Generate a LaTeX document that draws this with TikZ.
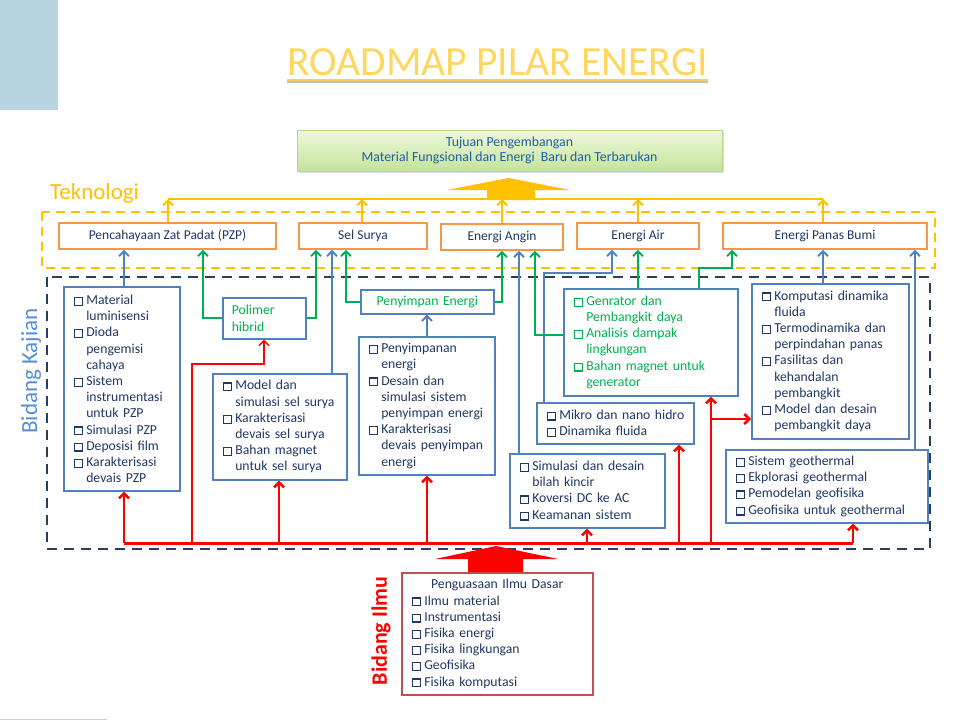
\documentclass[tikz,border=0pt]{standalone}
\usepackage{fontspec}
\setmainfont{Carlito}
\usetikzlibrary{arrows.meta,shadows}
\definecolor{navy}{HTML}{1F3864}
\definecolor{boxblue}{HTML}{4F81BD}
\definecolor{orangeC}{HTML}{F79646}
\definecolor{goldC}{HTML}{FFC000}
\definecolor{greenC}{HTML}{00B050}
\definecolor{redC}{HTML}{FF0000}
\definecolor{dashblue}{HTML}{243F60}
\definecolor{kajianC}{HTML}{558ED5}
\definecolor{ilmuborder}{HTML}{C0504D}
\definecolor{titleC}{HTML}{FFD75E}
\definecolor{goaltop}{HTML}{F0F8DC}
\definecolor{goalbot}{HTML}{C4E39C}
\definecolor{goalborder}{HTML}{B5D98A}
\definecolor{goaltext}{HTML}{1F5F9F}
\definecolor{decoC}{HTML}{B8D4E0}
\newcommand\fsz[2]{\fontsize{#1}{#2}\selectfont}
\newcommand\cbx{\makebox[12.5pt][l]{\raisebox{-0.2pt}{\setlength\fboxsep{0pt}\setlength\fboxrule{1.2pt}\fbox{\rule{0pt}{6.6pt}\rule{6.6pt}{0pt}}}}}
\newcommand\ind{\hspace*{12.5pt}}
\begin{document}
\begin{tikzpicture}[x=1pt,y=-1pt,
  tech/.style={draw=orangeC, line width=1.6pt, fill=white, minimum height=26pt, inner sep=0pt, font=\fsz{13.5}{16}, text=navy},
  lbox/.style={draw=boxblue, line width=1.6pt, fill=white, align=left, inner xsep=10pt, inner ysep=0pt, font=\fsz{13.7}{16.2}, text=navy, anchor=north west},
  tip/.style={-{Straight Barb[length=5pt,width=10pt]}},
  bc/.style={draw=boxblue, line width=2pt, tip},
  gc/.style={draw=greenC, line width=2pt, tip},
  rc/.style={draw=redC, line width=2.5pt, tip},
  rcthin/.style={draw=redC, line width=1.5pt, tip},
  yc/.style={draw=goldC, line width=2pt, tip},
  yline/.style={draw=goldC, line width=2pt},
  rline/.style={draw=redC, line width=3pt}
]
\useasboundingbox (0,0) rectangle (960,720);
% decorations
\fill[decoC] (0,0) rectangle (58,110);
\draw[decoC, line width=1pt] (0,719) -- (107,719);
% title
\node[inner sep=0pt, text=titleC, font=\fsz{41.5}{42}] (title) at (497.5,62) {ROADMAP PILAR ENERGI};
\draw[black!25, line width=1.5pt] ([yshift=-6pt]title.south west) -- ([yshift=-6pt]title.south east);
\draw[titleC!90!orange, line width=2pt] ([yshift=-4pt]title.south west) -- ([yshift=-4pt]title.south east);
% dashed frames
\draw[goldC, line width=2pt, dash pattern=on 9pt off 6pt] (42,212) rectangle (935,268);
\draw[dashblue, line width=2.5pt, dash pattern=on 10pt off 7pt] (47,277) rectangle (930,549);
% labels
\node[anchor=west, text=goldC, font=\fsz{23}{23}, inner sep=0pt] (tek) at (50,193) {Teknologi};
\node[rotate=90, text=kajianC, font=\fsz{23}{23}, inner sep=0pt] (bk) at (31,371) {Bidang Kajian};
\node[rotate=90, text=redC, font=\fsz{22}{22}\bfseries, inner sep=0pt] (bi) at (381,631) {Bidang Ilmu};
% goal
\node[draw=goalborder, line width=0.8pt, top color=goaltop, bottom color=goalbot, minimum width=425pt, minimum height=41pt, align=center, font=\fsz{13.8}{15.5}, text=goaltext, drop shadow={opacity=0.25, shadow xshift=2pt, shadow yshift=-2pt}] (goal) at (509.5,150.5) {Tujuan Pengembangan\\Material Fungsional dan Energi~ Baru dan Terbarukan};
% technology boxes
\node[tech, minimum width=217pt] (pzp) at (167.5,236) {Pencahayaan Zat Padat (PZP)};
\node[tech, minimum width=128pt] (ss) at (363,236) {Sel Surya};
\node[tech, minimum width=122pt] (ea) at (502,237) {Energi Angin};
\node[tech, minimum width=122pt] (air) at (638,236) {Energi Air};
\node[tech, minimum width=204pt] (pb) at (825,236) {Energi Panas Bumi};
% study boxes
\node[lbox, minimum width=116pt, minimum height=204pt, text width=96pt] (l1) at (63,286) {\cbx Material\\\ind luminisensi\\\cbx Dioda\\\ind pengemisi\\\ind cahaya\\\cbx Sistem\\\ind instrumentasi\\\ind untuk PZP\\\cbx Simulasi PZP\\\cbx Deposisi film\\\cbx Karakterisasi\\\ind devais PZP};
\node[lbox, text=greenC, minimum width=83pt, minimum height=41pt, text width=65pt, inner xsep=9pt] (poli) at (222,297) {Polimer\\hibrid};
\node[lbox, minimum width=134pt, minimum height=106pt, text width=114pt] (l3) at (212,373) {\cbx Model dan\\\ind \mbox{simulasi sel surya}\\\cbx Karakterisasi\\\ind devais sel surya\\\cbx Bahan magnet\\\ind untuk sel surya};
\node[lbox, text=greenC, minimum width=133pt, minimum height=24pt, text width=113pt, align=center] (pe) at (360,289) {Penyimpan Energi};
\node[lbox, minimum width=136pt, minimum height=138pt, text width=116pt] (l5) at (358,336) {\cbx Penyimpanan\\\ind energi\\\cbx Desain dan\\\ind simulasi sistem\\\ind \mbox{penyimpan energi}\\\cbx Karakterisasi\\\ind \mbox{devais penyimpan}\\\ind energi};
\node[lbox, minimum width=155pt, minimum height=74pt, text width=135pt] (l6) at (509,453) {\cbx \mbox{Simulasi dan desain}\\\ind bilah kincir\\\cbx Koversi DC ke AC\\\cbx Keamanan sistem};
\node[lbox, text=greenC, minimum width=174pt, minimum height=107pt, text width=154pt] (l7) at (563,288) {\cbx Genrator dan\\\ind Pembangkit daya\\\cbx Analisis dampak\\\ind lingkungan\\\cbx \mbox{Bahan magnet untuk}\\\ind generator};
\node[lbox, minimum width=157pt, minimum height=41pt, text width=137pt] (l8) at (536,402) {\cbx \mbox{Mikro dan nano hidro}\\\cbx Dinamika fluida};
\node[lbox, minimum width=157pt, minimum height=155pt, text width=137pt] (l9) at (751,283) {\cbx \mbox{Komputasi dinamika}\\\ind fluida\\\cbx \mbox{Termodinamika dan}\\\ind \mbox{perpindahan panas}\\\cbx Fasilitas dan\\\ind kehandalan\\\ind pembangkit\\\cbx Model dan desain\\\ind pembangkit daya};
\node[lbox, minimum width=202pt, minimum height=73pt, text width=182pt] (l10) at (725,449) {\cbx Sistem geothermal\\\cbx Ekplorasi geothermal\\\cbx Pemodelan geofisika\\\cbx \mbox{Geofisika untuk geothermal}};
\node[lbox, draw=ilmuborder, minimum width=191pt, minimum height=122pt, text width=171pt] (ilmu) at (401,572) {\makebox[171pt][c]{Penguasaan Ilmu Dasar}\\\cbx Ilmu material\\\cbx Instrumentasi\\\cbx Fisika energi\\\cbx Fisika lingkungan\\\cbx Geofisika\\\cbx Fisika komputasi};
% reference lines
\coordinate (yl) at (0,199);
\coordinate (rl) at (0,543);
% yellow connectors
\draw[yline] (168,0 |- yl) -- (823,0 |- yl);
\foreach \n/\x in {pzp/168, ss/362, ea/502, air/638, pb/823}
  \draw[yc] (\x,0 |- \n.north) -- (\x,0 |- yl);
\fill[goldC] (487,200) -- (487,190) -- (447,190) -- (508.5,178) -- (570,190) -- (535,190) -- (535,200) -- cycle;
% blue connectors
\draw[bc] (124,0 |- l1.north) -- (124,0 |- pzp.south);
\draw[bc] (332,0 |- l3.north) -- (332,0 |- ss.south);
\draw[bc] (427,0 |- l5.north) -- (427,0 |- pe.south);
\draw[bc] (519,0 |- l6.north) -- (519,0 |- ea.south);
\draw[bc] (544,0 |- l8.north) -- (544,273) -| (612,0 |- air.south);
\draw[bc] (823,0 |- l9.north) -- (823,0 |- pb.south);
\draw[bc] (915,0 |- l10.north) -- (915,0 |- pb.south);
% green connectors
\draw[gc] (poli.west) -| (203,0 |- pzp.south);
\draw[gc] (poli.east) -| (316,0 |- ss.south);
\draw[gc] (pe.west) -| (346,0 |- ss.south);
\draw[gc] (pe.east) -| (502,0 |- ea.south);
\draw[gc] (l7.west |- 0,335) -| (535,0 |- ea.south);
\draw[gc] (638,0 |- l7.north) -- (638,0 |- air.south);
\draw[gc] (699,0 |- l7.north) -- (699,268) -| (732,0 |- pb.south);
% red connectors
\draw[rline] (124,0 |- rl) -- (853,0 |- rl);
\foreach \n/\x in {l1/124, l3/279, l5/427, l6/587, l8/679, l7/711, l10/853}
  \draw[rc] (\x,0 |- rl) -- (\x,0 |- \n.south);
\draw[rcthin] (192,0 |- rl) |- (264,364) -- (264,0 |- poli.south);
\draw[rc] (711,419) -- (l9.west |- 0,419);
\fill[redC] (468,572) -- (468,559) -- (435,559) -- (496,546) -- (558,559) -- (523,559) -- (523,572) -- cycle;
\end{tikzpicture}
\end{document}
